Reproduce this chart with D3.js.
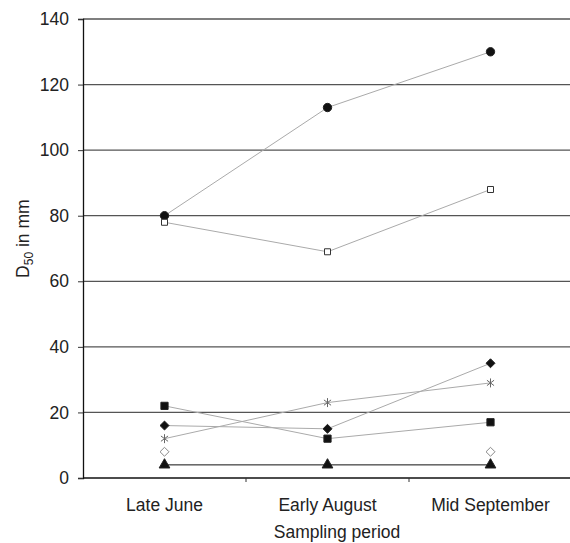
<!DOCTYPE html>
<html>
<head>
<meta charset="utf-8">
<script src="https://cdn.jsdelivr.net/npm/d3@7"></script>
<style>
  body { margin: 0; background: #fff; }
  text { font-family: "Liberation Sans", Arial, sans-serif; fill: #222; }
</style>
</head>
<body>
<div id="chart"></div>
<script>
// Data
const periods = ['Late June', 'Early August', 'Mid September'];
const circleFilled = [80, 113, 130];
const squareOpen = [78, 69, 88];
const diamondFilled = [16, 15, 35];
const asterisk = [12, 23, 29];
const squareFilled = [22, 12, 17];
const diamondOpen = [8, null, 8];
const triangleFilled = [4, 4, 4];
const yTicks = [0, 20, 40, 60, 80, 100, 120, 140];

// square diamond (rotated square) and six-armed star
const symbolRhomb = {
    draw(context, size) {
        const r = Math.sqrt(size / 2);
        context.moveTo(0, -r);
        context.lineTo(r, 0);
        context.lineTo(0, r);
        context.lineTo(-r, 0);
        context.closePath();
    }
};
const symbolStar = {
    draw(context, size) {
        const r = Math.sqrt(size) / 2;
        context.moveTo(0, -r);
        context.lineTo(0, r);
        context.moveTo(-r * 0.8, -r * 0.6);
        context.lineTo(r * 0.8, r * 0.6);
        context.moveTo(-r * 0.8, r * 0.6);
        context.lineTo(r * 0.8, -r * 0.6);
    }
};

const series = [
    {name: 'circleFilled', values: circleFilled, symbol: d3.symbolCircle, size: 55, fill: '#111', stroke: '#222', line: '#aaa'},
    {name: 'squareOpen', values: squareOpen, symbol: d3.symbolSquare, size: 36, fill: '#fff', stroke: '#333', line: '#aaa'},
    {name: 'diamondFilled', values: diamondFilled, symbol: symbolRhomb, size: 40, fill: '#111', stroke: '#222', line: '#aaa'},
    {name: 'asterisk', values: asterisk, symbol: symbolStar, size: 80, fill: 'none', stroke: '#666', line: '#aaa'},
    {name: 'squareFilled', values: squareFilled, symbol: d3.symbolSquare, size: 52, fill: '#111', stroke: '#222', line: '#aaa'},
    {name: 'diamondOpen', values: diamondOpen, symbol: symbolRhomb, size: 40, fill: '#fff', stroke: '#888', line: '#aaa'},
    {name: 'triangleFilled', values: triangleFilled, symbol: d3.symbolTriangle, size: 50, fill: '#111', stroke: '#222', line: '#111'}
];

const width = 570;
const height = 543;
const margin = {top: 19, right: 0, bottom: 65, left: 83};
const chartWidth = width - margin.left - margin.right;
const chartHeight = height - margin.top - margin.bottom;

const svg = d3.select('#chart')
  .append('svg')
    .attr('width', width)
    .attr('height', height);

const g = svg.append('g')
    .attr('transform', `translate(${margin.left},${margin.top})`);

const xScale = d3.scaleBand()
    .domain(periods)
    .range([0, 489]);

const yScale = d3.scaleLinear()
    .domain([0, 140])
    .range([chartHeight, 0]);

// gridlines
g.append('g')
    .selectAll('line')
    .data(yTicks.filter(d => d > 0))
  .join('line')
    .attr('x1', 0)
    .attr('x2', chartWidth)
    .attr('y1', d => yScale(d))
    .attr('y2', d => yScale(d))
    .attr('stroke', '#555')
    .attr('stroke-width', 1.3);

// y axis
const yAxis = d3.axisLeft(yScale)
    .tickValues(yTicks)
    .tickSize(5)
    .tickPadding(9);

g.append('g')
    .call(yAxis)
    .call(s => s.select('.domain').attr('stroke', '#111').attr('stroke-width', 1.3))
    .call(s => s.selectAll('.tick line').attr('stroke', '#333'))
    .call(s => s.selectAll('.tick text')
        .style('font-size', '17.5px')
        .attr('fill', '#222')
        .attr('font-family', '"Liberation Sans", Arial, sans-serif'));

// x axis baseline
g.append('line')
    .attr('x1', 0)
    .attr('x2', chartWidth)
    .attr('y1', chartHeight)
    .attr('y2', chartHeight)
    .attr('stroke', '#111')
    .attr('stroke-width', 1.3);

// x ticks between categories
g.append('g')
    .selectAll('line')
    .data(periods.slice(1))
  .join('line')
    .attr('x1', d => xScale(d))
    .attr('x2', d => xScale(d))
    .attr('y1', chartHeight)
    .attr('y2', chartHeight + 4)
    .attr('stroke', '#333');

g.append('g')
    .selectAll('text')
    .data(periods)
  .join('text')
    .attr('x', d => xScale(d) + xScale.bandwidth() / 2)
    .attr('y', chartHeight + 33)
    .attr('text-anchor', 'middle')
    .style('font-size', '17.5px')
    .text(d => d);

// axis titles
g.append('text')
    .attr('x', 254)
    .attr('y', chartHeight + 60)
    .attr('text-anchor', 'middle')
    .style('font-size', '17.5px')
    .text('Sampling period');

const yTitle = svg.append('text')
    .attr('transform', `translate(29,${margin.top + yScale(73)}) rotate(-90)`)
    .attr('text-anchor', 'middle')
    .style('font-size', '17.5px');
yTitle.append('tspan').text('D');
yTitle.append('tspan').attr('dy', 4).style('font-size', '12px').text('50');
yTitle.append('tspan').attr('dy', -4).text(' in mm');

// series
const xPos = i => xScale(periods[i]) + xScale.bandwidth() / 2;

const line = d3.line()
    .defined(d => d != null)
    .x((d, i) => xPos(i))
    .y(d => yScale(d));

series.forEach(s => {
    g.append('path')
        .datum(s.values)
        .attr('fill', 'none')
        .attr('stroke', s.line)
        .attr('stroke-width', 1)
        .attr('d', line);
});

series.forEach(s => {
    g.append('g')
        .selectAll('path')
        .data(s.values.map((v, i) => ({v, i})).filter(d => d.v != null))
      .join('path')
        .attr('transform', d => `translate(${xPos(d.i)},${yScale(d.v)})`)
        .attr('d', d3.symbol(s.symbol, s.size))
        .attr('fill', s.fill)
        .attr('stroke', s.stroke)
        .attr('stroke-width', 1);
});
</script>
</body>
</html>
